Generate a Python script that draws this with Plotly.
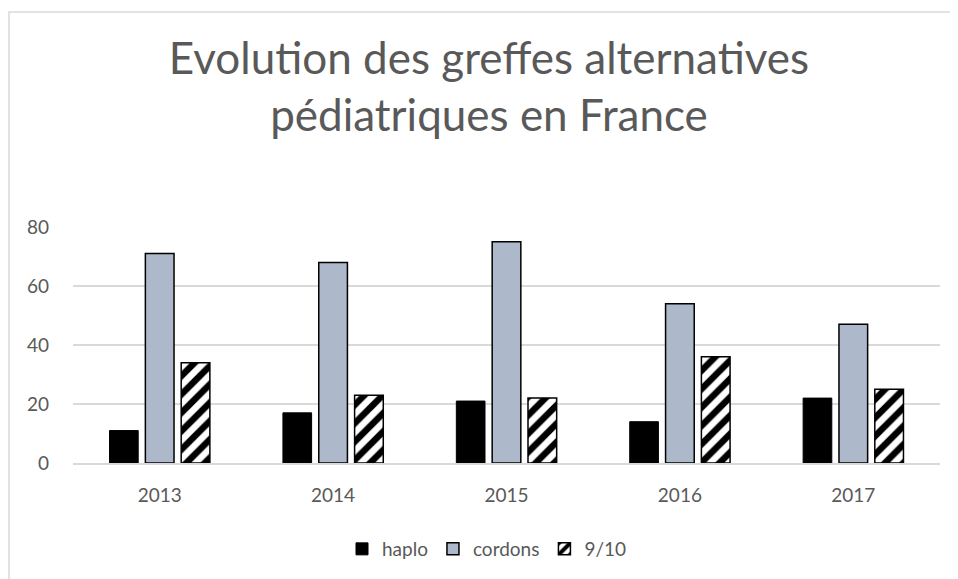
import plotly.graph_objects as go

years = ["2013", "2014", "2015", "2016", "2017"]
haplo = [11, 17, 21, 14, 22]
cordons = [71, 68, 75, 54, 47]
nine_ten = [34, 23, 22, 36, 25]
y_ticks = [0, 20, 40, 60, 80]

FONT = "Lato"
GRAY = "#595959"
W, H = 950, 571

fig = go.Figure()
fig.add_trace(go.Bar(x=years, y=haplo, name="haplo",
                     marker=dict(color="black", line=dict(color="black", width=1))))
fig.add_trace(go.Bar(x=years, y=cordons, name="cordons",
                     marker=dict(color="#adb9ca", line=dict(color="black", width=1.5))))
fig.add_trace(go.Bar(x=years, y=nine_ten, name="9/10",
                     marker=dict(color="white", line=dict(color="black", width=1.5),
                                 pattern=dict(shape="/", fgcolor="black", bgcolor="white",
                                              size=13, solidity=0.5, fgopacity=1,
                                              fillmode="replace"))))

ml, mr, mt, mb = 65, 18, 219, 115
ph = H - mt - mb
pw = W - ml - mr

fig.update_layout(
    width=W, height=H,
    margin=dict(l=ml, r=mr, t=mt, b=mb),
    paper_bgcolor="white", plot_bgcolor="white",
    barmode="group", bargap=0.38, bargroupgap=0.2,
    title=dict(text="Evolution des greffes alternatives<br>pédiatriques en France",
               x=(489 - 8) / W, xanchor="center", y=1 - 66 / H, yanchor="top",
               font=dict(family=FONT, size=44, color=GRAY)),
    font=dict(family=FONT, color=GRAY, size=18),
    showlegend=True,
    legend=dict(orientation="h", x=(487 - 8 - ml) / pw, xanchor="center",
                y=-(549 - 8 - (mt + ph)) / ph, yanchor="middle",
                font=dict(family=FONT, size=19, color=GRAY), itemwidth=30,
                traceorder="normal"),
    xaxis=dict(showline=True, linecolor="#d9d9d9", linewidth=1.5, ticks="",
               tickfont=dict(size=19, color=GRAY), ticklabelstandoff=14),
    yaxis=dict(range=[0, 80], tickvals=y_ticks, showgrid=True, gridcolor="#d9d9d9",
               gridwidth=1.5, zeroline=False, showline=False, ticks="",
               tickfont=dict(size=19, color=GRAY), ticklabelstandoff=23),
    shapes=[dict(type="rect", xref="paper", yref="paper",
                 x0=-(ml - 1) / pw, x1=1 + (mr + 5) / pw,
                 y0=-(mb + 10) / ph, y1=1 + (mt - 3) / ph,
                 line=dict(color="#d9d9d9", width=1.5), fillcolor="rgba(0,0,0,0)",
                 layer="below")],
)

fig.write_html("out.html")
